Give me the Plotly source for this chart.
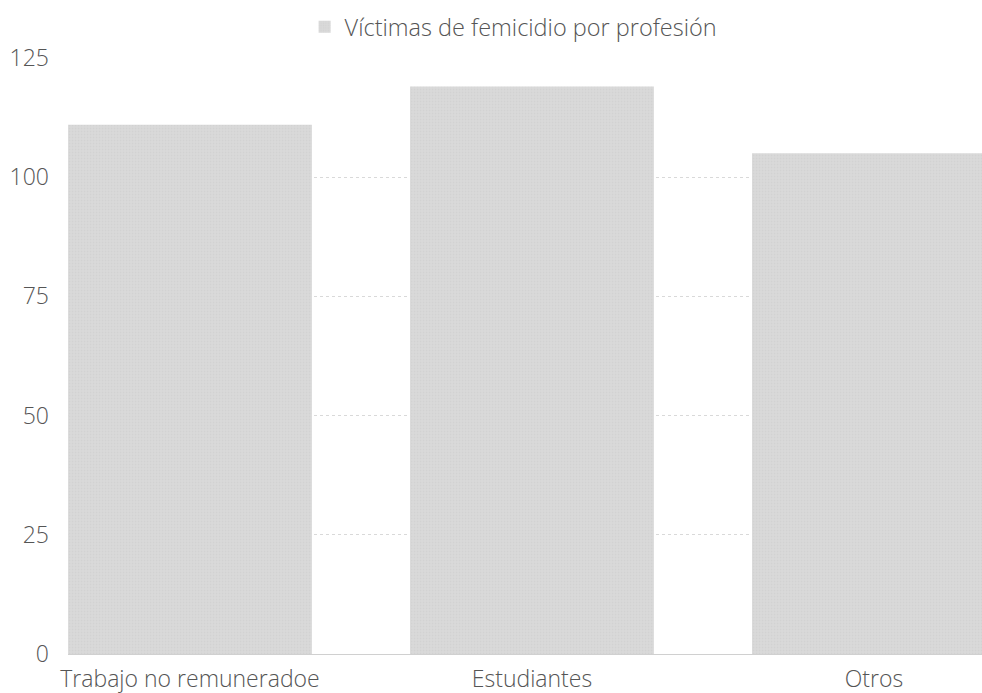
import plotly.graph_objects as go

categories = ["Trabajo no remuneradoe", "Estudiantes", "Otros"]
values = [111, 119, 105]
series_name = "Víctimas de femicidio por profesión"
y_ticks = [0, 25, 50, 75, 100, 125]

fig = go.Figure()
fig.add_trace(go.Bar(
    x=categories, y=values, name=series_name,
    marker=dict(color="#d6d6d6", line=dict(width=0),
                pattern=dict(shape=".", fgcolor="#c9c9c9", bgcolor="#dadada", size=3, solidity=0.3)),
    width=0.713, showlegend=True,
))

fig.update_layout(
    width=982, height=693,
    margin=dict(l=68, r=0, t=58, b=39),
    paper_bgcolor="white", plot_bgcolor="white",
    font=dict(family="Open Sans", color="#555555", size=23, weight=300),
    showlegend=True,
    legend=dict(orientation="h", x=0.487, xanchor="center", y=1.052, yanchor="middle",
                font=dict(size=23.5, color="#555555", weight=300), itemwidth=30),
    xaxis=dict(range=[-0.3567, 2.316], showgrid=False, showline=False,
               tickfont=dict(size=23, weight=300), ticks="", ticklabelstandoff=9),
    yaxis=dict(range=[0, 125], tickvals=y_ticks, showgrid=True,
               gridcolor="#d9d9d9", griddash="dot", gridwidth=1,
               zeroline=True, zerolinecolor="#d0d0d0", zerolinewidth=1,
               tickfont=dict(size=23, weight=300), ticks="", ticklabelstandoff=18),
    bargap=0.287,
)

fig.write_html("out.html", config={"displayModeBar": False},
               post_script="document.body.style.margin='0';document.body.style.overflow='hidden';")
